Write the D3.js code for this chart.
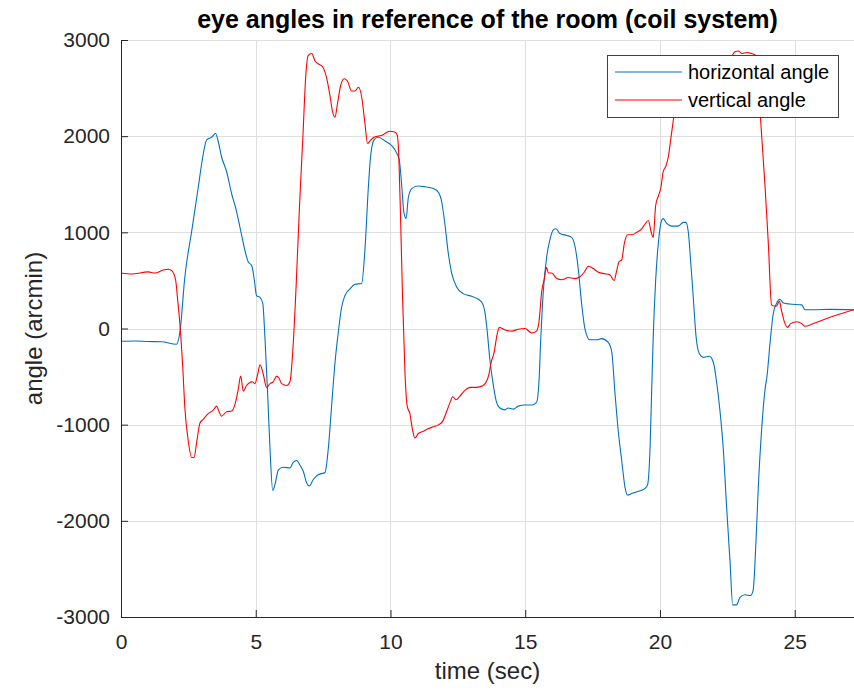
<!DOCTYPE html>
<html>
<head>
<meta charset="utf-8">
<script src="https://cdn.jsdelivr.net/npm/d3@7"></script>
<style>
  body { margin: 0; background: #fff; }
  svg { display: block; }
  text { font-family: "Liberation Sans", Arial, Helvetica, sans-serif; }
</style>
</head>
<body>
<svg id="chart" width="854" height="693"></svg>
<script>
// Coil-system eye recording: time (s) and angle (arcmin) per channel
const hTime = [0.00, 0.50, 1.00, 1.50, 2.06, 2.19, 2.37, 2.62, 2.87, 2.99, 3.18, 3.36, 3.51, 3.61, 3.73, 3.92, 4.11, 4.25, 4.42, 4.60, 4.72, 4.85, 4.95, 5.03, 5.16, 5.26, 5.34, 5.44, 5.53, 5.63, 5.71, 5.84, 6.02, 6.27, 6.39, 6.52, 6.64, 6.77, 6.89, 6.99, 7.14, 7.32, 7.57, 7.69, 7.82, 7.94, 8.06, 8.19, 8.31, 8.50, 8.68, 8.93, 9.05, 9.18, 9.26, 9.39, 9.55, 9.80, 10.04, 10.23, 10.33, 10.41, 10.50, 10.58, 10.66, 10.79, 11.03, 11.28, 11.59, 11.78, 11.90, 12.02, 12.15, 12.27, 12.46, 12.70, 13.01, 13.26, 13.42, 13.51, 13.59, 13.69, 13.80, 13.92, 14.06, 14.25, 14.37, 14.56, 14.74, 14.99, 15.24, 15.42, 15.51, 15.58, 15.67, 15.79, 15.92, 16.04, 16.14, 16.29, 16.54, 16.72, 16.85, 16.97, 17.09, 17.22, 17.40, 17.65, 17.83, 18.08, 18.21, 18.33, 18.45, 18.58, 18.70, 18.80, 18.95, 19.20, 19.44, 19.54, 19.63, 19.69, 19.75, 19.84, 19.94, 20.04, 20.12, 20.25, 20.43, 20.68, 20.87, 20.96, 21.05, 21.14, 21.24, 21.34, 21.46, 21.61, 21.83, 21.98, 22.10, 22.23, 22.35, 22.47, 22.60, 22.70, 22.84, 22.97, 23.15, 23.36, 23.46, 23.56, 23.65, 23.77, 23.90, 23.98, 24.08, 24.20, 24.33, 24.45, 24.58, 24.82, 25.26, 25.38, 25.69, 26.31, 27.20];
const hAngle = [-133, -130, -135, -138, -164, -27, 538, 1006, 1474, 1708, 1962, 1989, 2028, 1942, 1786, 1630, 1396, 1260, 1045, 811, 694, 655, 499, 343, 324, 265, -86, -671, -1256, -1685, -1626, -1470, -1443, -1451, -1392, -1373, -1420, -1490, -1607, -1638, -1568, -1521, -1498, -1256, -788, -359, -47, 226, 343, 413, 460, 468, 811, 1474, 1786, 1962, 1989, 1950, 1903, 1825, 1747, 1513, 1201, 1143, 1357, 1455, 1482, 1474, 1455, 1416, 1318, 1084, 772, 577, 429, 363, 335, 304, 257, 160, -30, -330, -560, -750, -827, -846, -827, -838, -807, -796, -796, -768, -554, -86, 382, 733, 928, 1026, 1037, 987, 967, 948, 850, 616, 265, -8, -117, -117, -105, -144, -242, -671, -1061, -1373, -1646, -1732, -1716, -1693, -1665, -1626, -1256, -671, -86, 499, 889, 1104, 1143, 1092, 1065, 1065, 1104, 1104, 1006, 694, 304, -86, -261, -300, -289, -351, -554, -866, -1256, -1841, -2426, -2874, -2874, -2796, -2769, -2777, -2718, -2231, -1646, -1061, -632, -476, -164, 148, 265, 304, 265, 254, 246, 195, 195, 199, 195];

const vTime = [0.00, 0.40, 1.01, 1.26, 1.57, 1.76, 1.90, 2.03, 2.10, 2.19, 2.29, 2.37, 2.50, 2.62, 2.71, 2.81, 2.93, 3.05, 3.24, 3.43, 3.55, 3.64, 3.73, 3.92, 4.11, 4.25, 4.35, 4.44, 4.54, 4.66, 4.87, 4.97, 5.07, 5.16, 5.28, 5.40, 5.53, 5.65, 5.78, 5.86, 5.96, 6.15, 6.27, 6.39, 6.50, 6.62, 6.75, 6.86, 6.95, 7.08, 7.20, 7.32, 7.48, 7.63, 7.76, 7.85, 7.94, 8.03, 8.15, 8.28, 8.40, 8.56, 8.68, 8.81, 8.93, 9.05, 9.15, 9.24, 9.39, 9.55, 9.71, 9.86, 9.98, 10.17, 10.25, 10.31, 10.38, 10.45, 10.54, 10.62, 10.72, 10.81, 10.91, 11.03, 11.22, 11.41, 11.59, 11.78, 11.94, 12.08, 12.21, 12.31, 12.43, 12.58, 12.77, 12.95, 13.20, 13.44, 13.57, 13.65, 13.73, 13.85, 13.94, 14.04, 14.25, 14.50, 14.74, 14.99, 15.24, 15.42, 15.51, 15.61, 15.71, 15.79, 15.86, 15.98, 16.17, 16.35, 16.60, 16.85, 17.03, 17.19, 17.34, 17.53, 17.71, 17.96, 18.14, 18.30, 18.39, 18.48, 18.58, 18.68, 18.80, 18.95, 19.13, 19.32, 19.44, 19.57, 19.67, 19.75, 19.84, 19.94, 20.04, 20.12, 20.22, 20.31, 20.41, 20.50, 20.62, 20.80, 21.40, 22.20, 22.60, 22.78, 22.91, 23.03, 23.22, 23.40, 23.52, 23.62, 23.77, 23.90, 24.02, 24.14, 24.23, 24.33, 24.43, 24.51, 24.64, 24.73, 24.85, 25.07, 25.26, 25.38, 25.69, 26.31, 27.20];
const vAngle = [577, 566, 589, 577, 608, 616, 597, 499, 304, 31, -398, -827, -1178, -1342, -1342, -1178, -983, -944, -885, -846, -807, -866, -913, -866, -858, -768, -632, -495, -651, -593, -554, -573, -476, -378, -476, -612, -573, -554, -495, -515, -573, -593, -554, -164, 450, 1250, 2000, 2644, 2839, 2859, 2781, 2753, 2722, 2605, 2410, 2254, 2196, 2332, 2527, 2597, 2574, 2469, 2469, 2508, 2410, 2137, 1923, 1950, 1989, 2001, 2012, 2040, 2051, 2040, 2012, 1786, 1084, 304, -476, -807, -885, -1041, -1139, -1092, -1069, -1041, -1022, -1002, -963, -866, -768, -710, -741, -702, -640, -612, -612, -593, -546, -480, -359, -242, -86, 12, -16, -27, -8, 0, -47, -27, 70, 382, 519, 636, 577, 577, 519, 507, 530, 519, 538, 585, 647, 624, 585, 569, 558, 499, 597, 694, 714, 889, 975, 975, 998, 1037, 1084, 1123, 1006, 948, 1279, 1377, 1474, 1630, 1689, 1786, 1990, 2176, 2450, 2650, 2700, 2760, 2800, 2878, 2886, 2859, 2870, 2859, 2847, 2650, 2020, 1474, 889, 246, 234, 234, 285, 187, 51, 12, 51, 70, 51, 23, 51, 117, 195];

const xTicks = [0, 5, 10, 15, 20, 25];
const yTicks = [-3000, -2000, -1000, 0, 1000, 2000, 3000];
const seriesNames = ["horizontal angle", "vertical angle"];
const seriesColors = ["#0072BD", "#FF0000"];

const svg = d3.select("#chart");
const W = 854, H = 693;
const plotLeft = 121, plotRight = 854, plotTop = 40, plotBottom = 617;

svg.append("rect").attr("width", W).attr("height", H).attr("fill", "#fff");

const x = d3.scaleLinear().domain([0, 27.2]).range([plotLeft, plotRight]);
const y = d3.scaleLinear().domain([-3000, 3000]).range([plotBottom, plotTop]);

// grid
const grid = svg.append("g").attr("stroke", "#dfdfdf").attr("stroke-width", 1);
grid.selectAll("line.gx").data(xTicks.filter(d => d > 0)).join("line")
  .attr("x1", d => Math.round(x(d)) + 0.5).attr("x2", d => Math.round(x(d)) + 0.5)
  .attr("y1", plotTop).attr("y2", plotBottom);
grid.selectAll("line.gy").data(yTicks.filter(d => d > -3000)).join("line")
  .attr("y1", d => Math.round(y(d)) + 0.5).attr("y2", d => Math.round(y(d)) + 0.5)
  .attr("x1", plotLeft).attr("x2", plotRight);

// data lines
const line = d3.line().x(d => x(d[0])).y(d => y(d[1])).curve(d3.curveMonotoneX);
const series = [d3.zip(hTime, hAngle), d3.zip(vTime, vAngle)];
svg.append("g").selectAll("path").data(series).join("path")
  .attr("d", line)
  .attr("fill", "none")
  .attr("stroke", (d, i) => seriesColors[i])
  .attr("stroke-width", 1.1)
  .attr("stroke-linejoin", "round");

// axes (tick labels use a plain hyphen for negatives)
const axisColor = "#262626";
const plainFormat = d => String(d);
const gx = svg.append("g").attr("transform", `translate(0,${plotBottom})`)
  .call(d3.axisBottom(x).tickValues(xTicks).tickFormat(plainFormat)
    .tickSizeInner(-7).tickSizeOuter(0).tickPadding(17));
const gy = svg.append("g").attr("transform", `translate(${plotLeft},0)`)
  .call(d3.axisLeft(y).tickValues(yTicks).tickFormat(plainFormat)
    .tickSizeInner(-7).tickSizeOuter(0).tickPadding(11));
[gx, gy].forEach(g => {
  g.select(".domain").attr("stroke", axisColor).attr("stroke-width", 1);
  g.selectAll(".tick line").attr("stroke", axisColor);
  g.selectAll(".tick text").attr("fill", axisColor)
    .style("font-size", "21px").style("font-family", "'Liberation Sans', Arial, sans-serif");
});

// title and axis labels
svg.append("text").attr("x", (plotLeft + plotRight) / 2).attr("y", 28)
  .attr("text-anchor", "middle").attr("font-weight", "bold")
  .attr("font-size", 25).attr("fill", "#000")
  .text("eye angles in reference of the room (coil system)");
svg.append("text").attr("x", (plotLeft + plotRight) / 2).attr("y", 679)
  .attr("text-anchor", "middle").attr("font-size", 24).attr("fill", axisColor)
  .text("time (sec)");
svg.append("text").attr("transform", `translate(42,${(plotTop + plotBottom) / 2}) rotate(-90)`)
  .attr("text-anchor", "middle").attr("font-size", 24).attr("fill", axisColor)
  .text("angle (arcmin)");

// legend
const lg = svg.append("g");
lg.append("rect").attr("x", 607.5).attr("y", 55.5).attr("width", 231).attr("height", 62)
  .attr("fill", "#fff").attr("stroke", "#404040").attr("stroke-width", 1);
const items = lg.selectAll("g.item").data(seriesNames).join("g")
  .attr("transform", (d, i) => `translate(0,${72 + i * 28})`);
items.append("line").attr("x1", 615).attr("x2", 682).attr("y1", 0).attr("y2", 0)
  .attr("stroke", (d, i) => seriesColors[i]).attr("stroke-width", 1.1);
items.append("text").attr("x", 688).attr("y", 7)
  .attr("font-size", 20).attr("fill", "#000").text(d => d);
</script>
</body>
</html>
